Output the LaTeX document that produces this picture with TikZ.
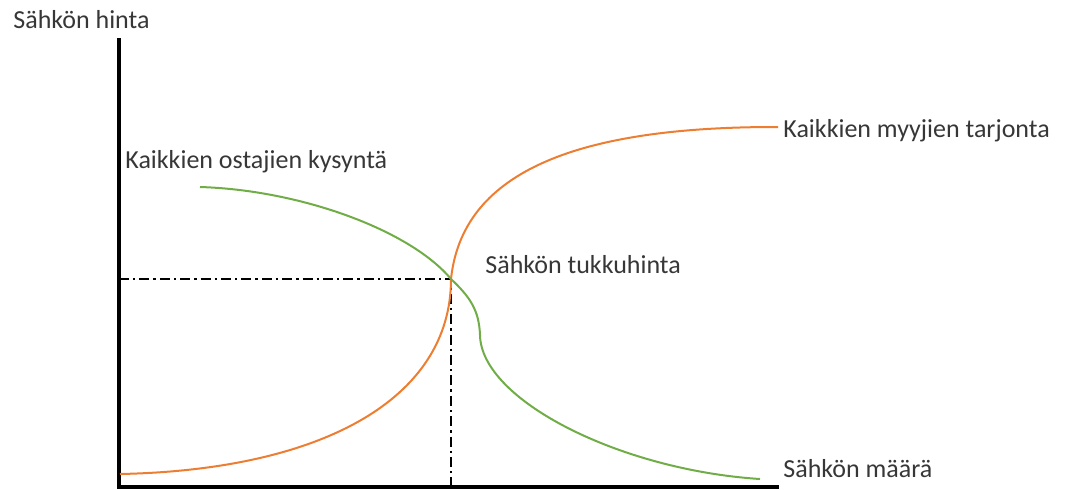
\documentclass[tikz,border=0pt]{standalone}
\usepackage{fontspec}
\setmainfont{Carlito}
\definecolor{tarjonta}{RGB}{237,125,49}
\definecolor{kysynta}{RGB}{112,173,71}
\definecolor{teksti}{RGB}{55,55,55}
\tikzset{
  akseli/.style={line width=2pt, black},
  kayra/.style={line width=1pt},
  apuviiva/.style={line width=0.7pt, dash pattern=on 5pt off 2pt on 1.2pt off 2pt},
  otsikko/.style={text=teksti, font=\fontsize{13}{15}\selectfont, inner sep=0pt}
}
\begin{document}
\begin{tikzpicture}[x=0.5pt, y=-0.5pt]
    \useasboundingbox (0,0) rectangle (1065,489);
    % Akselit
    \coordinate (O) at (119,487);
    \coordinate (ytop) at (119,38);
    \coordinate (xend) at (779,487);
    \draw[akseli] (ytop) -- (O) -- (xend);
    \node[otsikko, anchor=base west] (yakseli) at (13,28) {Sähkön hinta};
    \node[otsikko, anchor=base west] (xakseli) at (783,477) {Sähkön määrä};

    % Tasapainopiste
    \coordinate (eq) at (451,279);
    \coordinate (eqy) at (119,279);
    \coordinate (eqx) at (451,487);
    \draw[apuviiva] (eqy) -- (eq) -- (eqx);

    % Tarjontakäyrä
    \coordinate (t0) at (120,474);
    \coordinate (t1) at (775,127);
    \draw[kayra, tarjonta] (t0) .. controls (320,470) and (451,400) .. (eq)
        .. controls (462,175) and (570,127) .. (t1) -- (778,127);

    % Kysyntäkäyrä
    \coordinate (k0) at (200,187);
    \coordinate (k1) at (480,335);
    \coordinate (k2) at (760,479);
    \draw[kayra, kysynta] (k0) .. controls (300,190) and (410,230) .. (eq)
        .. controls (470,297) and (479,310) .. (k1)
        .. controls (481,400) and (620,470) .. (k2);

    % Nimet
    \node[otsikko, anchor=base west] (kysynta) at (125,168) {Kaikkien ostajien kysyntä};
    \node[otsikko, anchor=base west] (tukkuhinta) at (485,273) {Sähkön tukkuhinta};
    \node[otsikko, anchor=base west] (tarjonta) at (783,137) {Kaikkien myyjien tarjonta};
\end{tikzpicture}
\end{document}
